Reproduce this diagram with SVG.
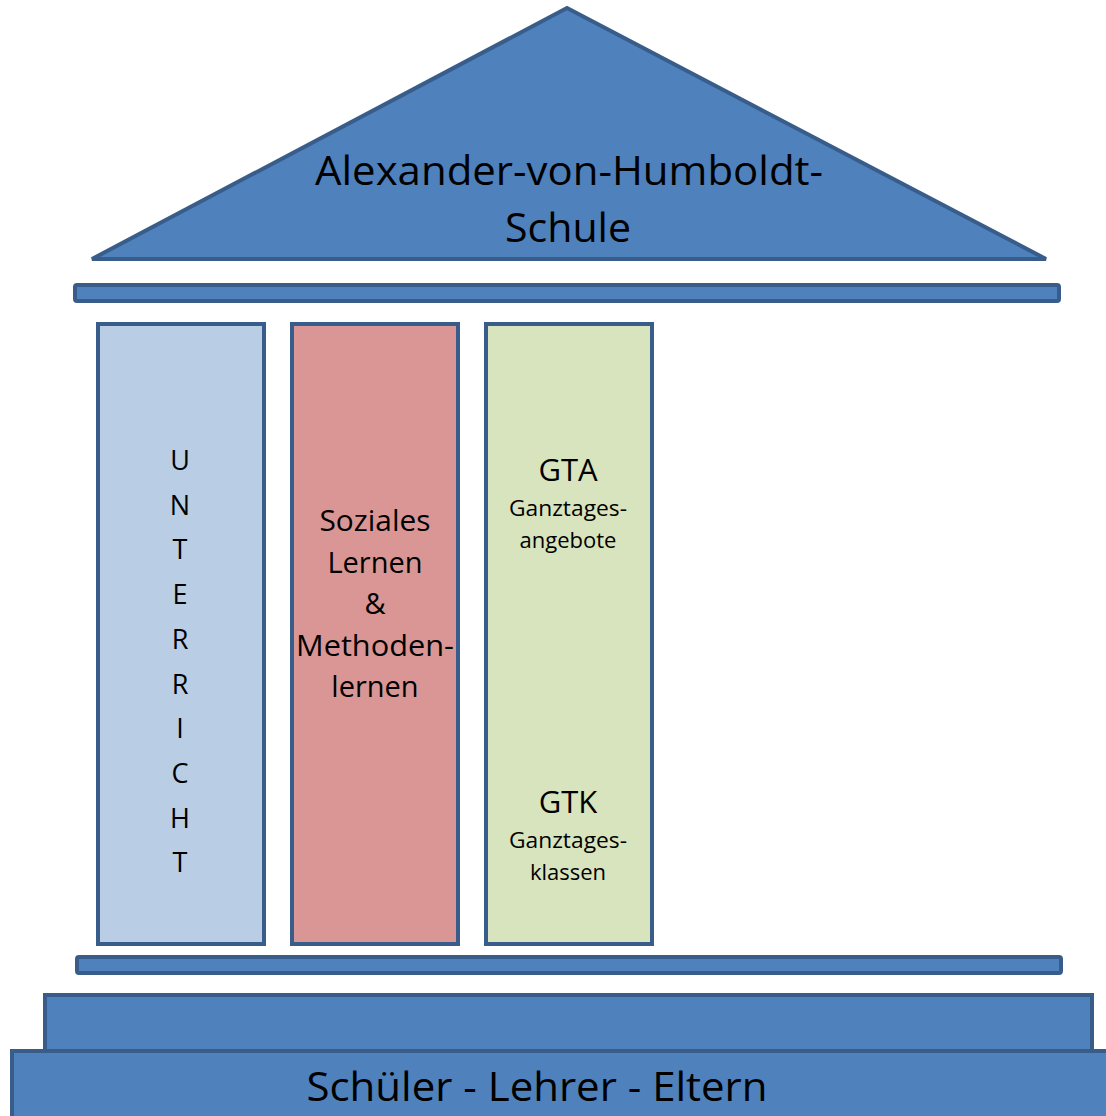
<svg xmlns="http://www.w3.org/2000/svg" width="1106" height="1116" viewBox="0 0 1106 1116">
<style>
.blue{fill:#4F81BD;stroke:#385D8A;stroke-width:4}
.pil{stroke:#385D8A;stroke-width:4}
text{font-family:"Open Sans","Noto Sans","Liberation Sans",sans-serif;fill:#000;text-anchor:middle}
.big{font-size:40px}
.mid{font-size:27px}
.soz{font-size:29px}
.gt{font-size:31px}
.sm{font-size:22px}
</style>
<rect width="1106" height="1116" fill="#fff"/>
<g id="roof">
<polygon class="blue" points="567,8 92,259 1046,259"/>
<text class="big" x="569" y="185" textLength="508" lengthAdjust="spacingAndGlyphs">Alexander-von-Humboldt-</text>
<text class="big" x="568" y="242" textLength="126" lengthAdjust="spacingAndGlyphs">Schule</text>
</g>
<g id="beam-top"><rect class="blue" x="75" y="285" width="984" height="16" rx="2"/></g>
<g id="pillar-unterricht">
<rect class="pil" x="98" y="324" width="166" height="620" fill="#B9CDE5"/>
<text class="mid" x="180" y="470">U</text>
<text class="mid" x="180" y="515">N</text>
<text class="mid" x="180" y="559">T</text>
<text class="mid" x="180" y="604">E</text>
<text class="mid" x="180" y="649">R</text>
<text class="mid" x="180" y="694">R</text>
<text class="mid" x="180" y="738">I</text>
<text class="mid" x="180" y="783">C</text>
<text class="mid" x="180" y="828">H</text>
<text class="mid" x="180" y="872">T</text>
</g>
<g id="pillar-sozial">
<rect class="pil" x="292" y="324" width="166" height="620" fill="#D99694"/>
<text class="soz" x="375" y="531" textLength="111" lengthAdjust="spacingAndGlyphs">Soziales</text>
<text class="soz" x="375" y="573">Lernen</text>
<text class="soz" x="375" y="614">&amp;</text>
<text class="soz" x="375" y="656" textLength="158" lengthAdjust="spacingAndGlyphs">Methoden-</text>
<text class="soz" x="375" y="697">lernen</text>
</g>
<g id="pillar-ganztag">
<rect class="pil" x="486" y="324" width="166" height="620" fill="#D7E4BD"/>
<text class="gt" x="568" y="481">GTA</text>
<text class="sm" x="568" y="516" textLength="118" lengthAdjust="spacingAndGlyphs">Ganztages-</text>
<text class="sm" x="568" y="548">angebote</text>
<text class="gt" x="568" y="813">GTK</text>
<text class="sm" x="568" y="848" textLength="118" lengthAdjust="spacingAndGlyphs">Ganztages-</text>
<text class="sm" x="568" y="880">klassen</text>
</g>
<g id="beam-bottom"><rect class="blue" x="77" y="957" width="984" height="16" rx="2"/></g>
<g id="step-upper"><rect class="blue" x="45" y="995" width="1047" height="60"/></g>
<g id="step-lower">
<rect class="blue" x="12" y="1051" width="1100" height="70"/>
<text class="big" x="537" y="1101" textLength="461" lengthAdjust="spacingAndGlyphs">Schüler - Lehrer - Eltern</text>
</g>
<g id="connectors"/>
</svg>
